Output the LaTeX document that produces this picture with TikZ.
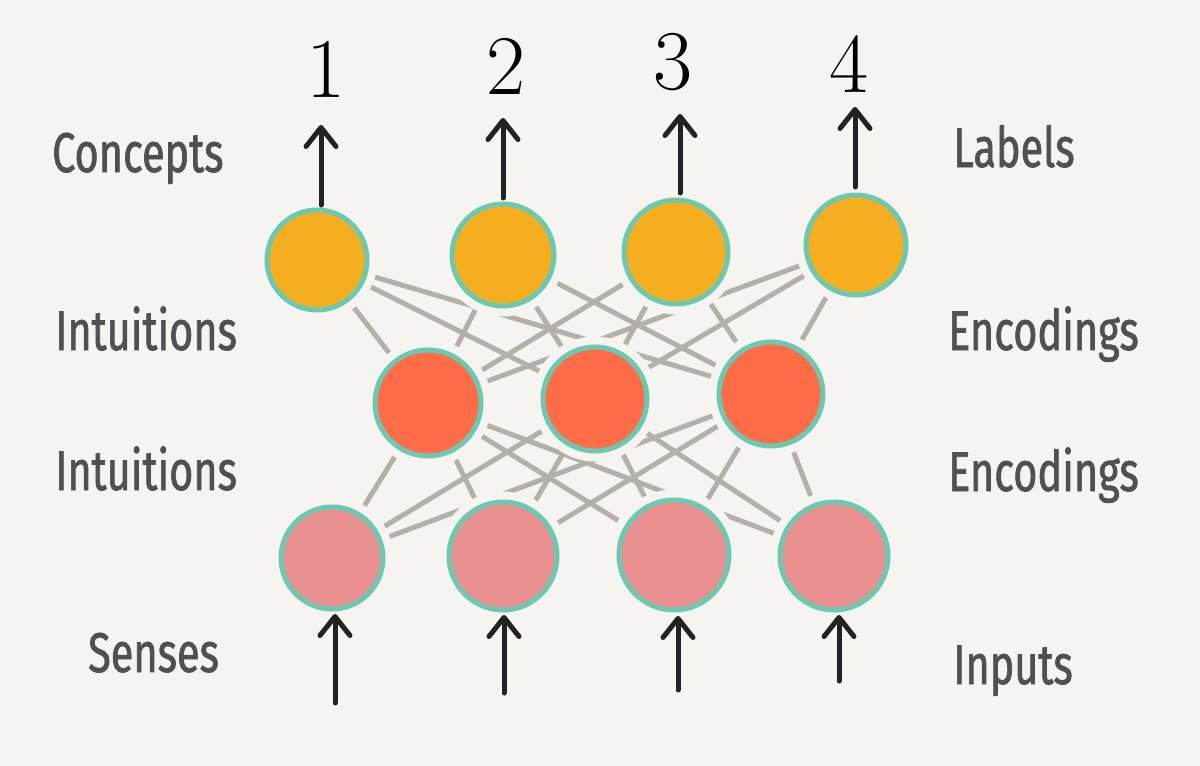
\documentclass[tikz,border=0pt]{standalone}
\usepackage{fontspec}
\usetikzlibrary{arrows.meta}
\newfontfamily\handfont[FakeStretch=0.74,FakeBold=1.2]{Fira Sans}
\definecolor{bgc}{HTML}{F5F4F0}
\definecolor{rimc}{HTML}{6CC8B0}
\definecolor{topc}{HTML}{F5AE1F}
\definecolor{midc}{HTML}{FF6C48}
\definecolor{lowc}{HTML}{E89090}
\definecolor{linkc}{HTML}{B4B0A9}
\definecolor{labc}{HTML}{505050}
\definecolor{arrc}{HTML}{222222}
\pgfdeclarelayer{background}
\pgfsetlayers{background,main}
\tikzset{
  neuron/.style={circle, draw=rimc, line width=5pt, inner sep=0pt, minimum size=#1,
    preaction={draw=bgc, line width=21pt}},
  link/.style={draw=linkc, line width=5pt, line cap=round},
  arr/.style={draw=arrc, line width=5pt, line cap=round,
    -{Straight Barb[length=19pt,width=30pt,line cap=round,line join=round]}},
  lab/.style={font=\handfont\fontsize{56}{60}\selectfont, text=labc, inner sep=0pt},
  num/.style={font=\fontsize{85}{90}\selectfont, text=black, inner sep=0pt, anchor=base}
}
\begin{document}
\begin{tikzpicture}[x=1pt,y=-1pt]
\begin{pgfonlayer}{background}
  \fill[bgc] (0,0) rectangle (1200,766);
\end{pgfonlayer}
\useasboundingbox (0,0) rectangle (1200,766);
% nodes
\node[neuron=100pt, fill=topc] (t1) at (317,260) {};
\node[neuron=102pt, fill=topc] (t2) at (503,255) {};
\node[neuron=104pt, fill=topc] (t3) at (676,252) {};
\node[neuron=100pt, fill=topc] (t4) at (856,245) {};
\node[neuron=106pt, fill=midc] (m1) at (428,403) {};
\node[neuron=104pt, fill=midc] (m2) at (595,399) {};
\node[neuron=104pt, fill=midc] (m3) at (771,394) {};
\node[neuron=102pt, fill=lowc] (b1) at (332,558) {};
\node[neuron=108pt, fill=lowc] (b2) at (503,556) {};
\node[neuron=110pt, fill=lowc] (b3) at (674,555) {};
\node[neuron=108pt, fill=lowc] (b4) at (834,556) {};
% links
\begin{pgfonlayer}{background}
  \foreach \u in {t1,t2,t3,t4}
    \foreach \v in {m1,m2,m3}
      \draw[link] (\u.center) -- (\v.center);
  \foreach \u in {m1,m2,m3}
    \foreach \v in {b1,b2,b3,b4}
      \draw[link] (\u.center) -- (\v.center);
\end{pgfonlayer}
% output arrows
\coordinate (o1s) at (321,205); \coordinate (o1e) at (321,125);
\coordinate (o2s) at (503,198); \coordinate (o2e) at (503,118);
\coordinate (o3s) at (680,193); \coordinate (o3e) at (680,114);
\coordinate (o4s) at (855,187); \coordinate (o4e) at (855,107);
\draw[arr] (o1s) -- (o1e);
\draw[arr] (o2s) -- (o2e);
\draw[arr] (o3s) -- (o3e);
\draw[arr] (o4s) -- (o4e);
% input arrows
\coordinate (i1s) at (335,703); \coordinate (i1e) at (335,614);
\coordinate (i2s) at (504,693); \coordinate (i2e) at (504,615);
\coordinate (i3s) at (678,690); \coordinate (i3e) at (678,616);
\coordinate (i4s) at (839,681); \coordinate (i4e) at (839,615);
\draw[arr] (i1s) -- (i1e);
\draw[arr] (i2s) -- (i2e);
\draw[arr] (i3s) -- (i3e);
\draw[arr] (i4s) -- (i4e);
% numbers
\node[num] (n1) at (326,97) {1};
\node[num] (n2) at (506,94) {2};
\node[num] (n3) at (673,89) {3};
\node[num] (n4) at (849,92) {4};
% labels
\node[lab, anchor=base west] (l1) at (52,172) {Concepts};
\node[lab, anchor=base west] (l2) at (55,350) {Intuitions};
\node[lab, anchor=base west] (l3) at (55,490) {Intuitions};
\node[lab, anchor=base west] (l4) at (88,672) {Senses};
\node[lab, anchor=base west] (r1) at (953,167) {Labels};
\node[lab, anchor=base west] (r2) at (948,350) {Encodings};
\node[lab, anchor=base west] (r3) at (948,491) {Encodings};
\node[lab, anchor=base west] (r4) at (953,684) {Inputs};
\end{tikzpicture}
\end{document}
